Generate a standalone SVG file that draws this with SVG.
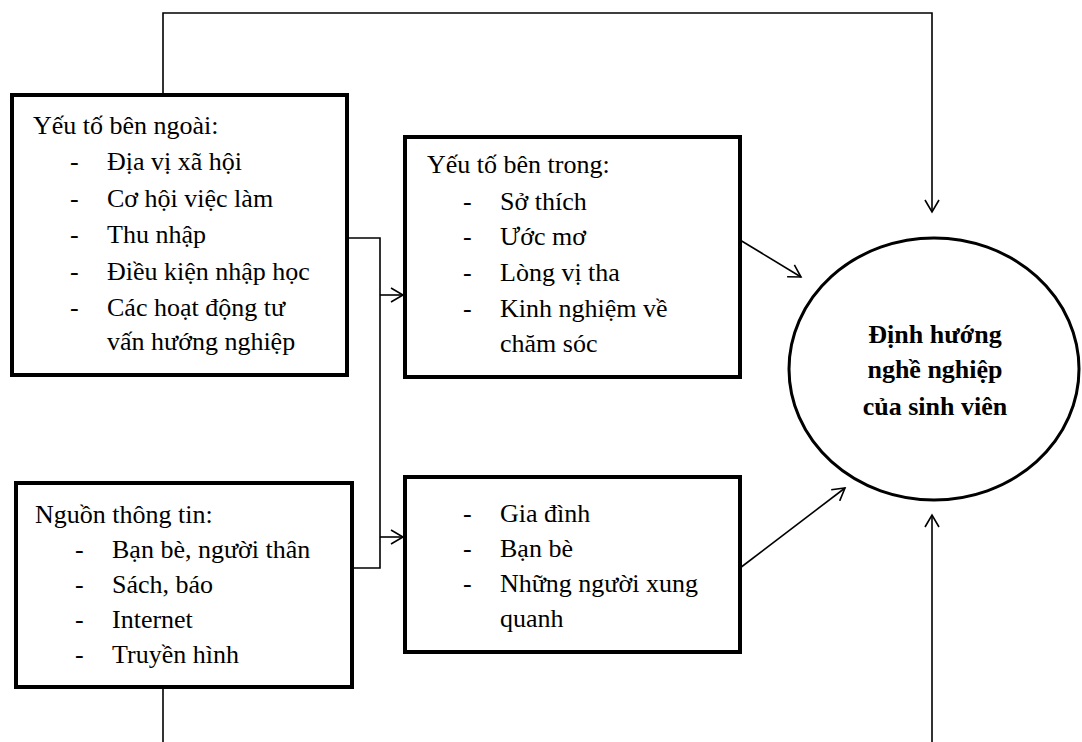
<svg xmlns="http://www.w3.org/2000/svg" width="1082" height="742" viewBox="0 0 1082 742">
<style>
.box{fill:#fff;stroke:#000;stroke-width:4}
.t{font-family:'Times New Roman','Liberation Serif','DejaVu Serif',serif;font-size:26px;fill:#000}
.b{font-family:'Times New Roman','Liberation Serif','DejaVu Serif',serif;font-size:26px;font-weight:bold;fill:#000}
.c{fill:none;stroke:#000;stroke-width:1.6}
</style>
<defs>
<marker id="ah" markerUnits="userSpaceOnUse" markerWidth="16" markerHeight="16" viewBox="0 0 16 16" refX="14" refY="8" orient="auto">
<path d="M2,1 L14,8 L2,15" fill="none" stroke="#000" stroke-width="1.6"/>
</marker>
</defs>
<rect width="1082" height="742" fill="#fff"/>
<g id="connectors">
<polyline class="c" points="163,95 163,13 932,13 932,212" marker-end="url(#ah)"/>
<polyline class="c" points="163,687 163,745"/>
<polyline class="c" points="932,745 932,515" marker-end="url(#ah)"/>
<polyline class="c" points="347,238 380,238 380,568 352,568"/>
<line class="c" x1="380" y1="295" x2="403" y2="295" marker-end="url(#ah)"/>
<line class="c" x1="380" y1="537" x2="403" y2="537" marker-end="url(#ah)"/>
<line class="c" x1="740" y1="240" x2="801" y2="277" marker-end="url(#ah)"/>
<line class="c" x1="740" y1="568" x2="845" y2="488" marker-end="url(#ah)"/>
</g>
<g id="ngoai">
<rect class="box" x="12" y="95" width="335" height="280"/>
<text class="t" x="33" y="134">Yếu tố bên ngoài:</text>
<text class="t" x="70" y="170">-</text><text class="t" x="107" y="170">Địa vị xã hội</text>
<text class="t" x="70" y="207">-</text><text class="t" x="107" y="207">Cơ hội việc làm</text>
<text class="t" x="70" y="243">-</text><text class="t" x="107" y="243">Thu nhập</text>
<text class="t" x="70" y="280">-</text><text class="t" x="107" y="280">Điều kiện nhập học</text>
<text class="t" x="70" y="316">-</text><text class="t" x="107" y="316">Các hoạt động tư</text>
<text class="t" x="107" y="350">vấn hướng nghiệp</text>
</g>
<g id="nguon">
<rect class="box" x="16" y="483" width="336" height="204"/>
<text class="t" x="35" y="523">Nguồn thông tin:</text>
<text class="t" x="75" y="558">-</text><text class="t" x="112" y="558">Bạn bè, người thân</text>
<text class="t" x="75" y="593">-</text><text class="t" x="112" y="593">Sách, báo</text>
<text class="t" x="75" y="628">-</text><text class="t" x="112" y="628">Internet</text>
<text class="t" x="75" y="663">-</text><text class="t" x="112" y="663">Truyền hình</text>
</g>
<g id="trong">
<rect class="box" x="405" y="137" width="335" height="240"/>
<text class="t" x="427" y="173">Yếu tố bên trong:</text>
<text class="t" x="463" y="210">-</text><text class="t" x="500" y="210">Sở thích</text>
<text class="t" x="463" y="245">-</text><text class="t" x="500" y="245">Ước mơ</text>
<text class="t" x="463" y="281">-</text><text class="t" x="500" y="281">Lòng vị tha</text>
<text class="t" x="463" y="317">-</text><text class="t" x="500" y="317">Kinh nghiệm về</text>
<text class="t" x="500" y="352">chăm sóc</text>
</g>
<g id="xahoi">
<rect class="box" x="405" y="477" width="335" height="175"/>
<text class="t" x="463" y="522">-</text><text class="t" x="500" y="522">Gia đình</text>
<text class="t" x="463" y="557">-</text><text class="t" x="500" y="557">Bạn bè</text>
<text class="t" x="463" y="592">-</text><text class="t" x="500" y="592">Những người xung</text>
<text class="t" x="500" y="627">quanh</text>
</g>
<g id="dinhhuong">
<ellipse cx="934" cy="369" rx="145" ry="131" fill="#fff" stroke="#000" stroke-width="3"/>
<text class="b" x="935" y="343" text-anchor="middle">Định hướng</text>
<text class="b" x="935" y="378" text-anchor="middle">nghề nghiệp</text>
<text class="b" x="935" y="415" text-anchor="middle">của sinh viên</text>
</g>
</svg>
